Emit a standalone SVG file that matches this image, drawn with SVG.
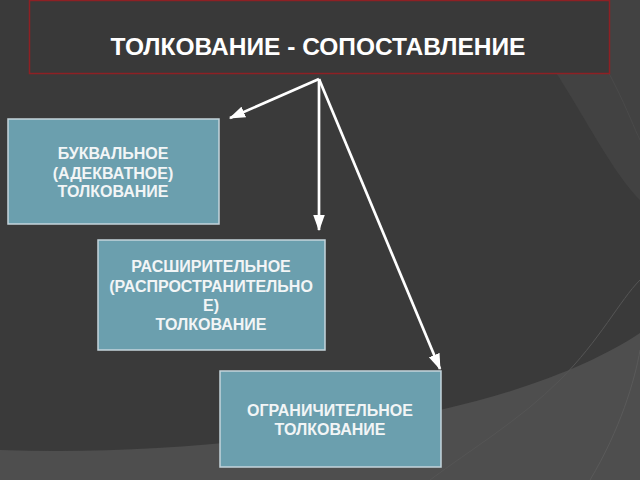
<svg xmlns="http://www.w3.org/2000/svg" width="640" height="480" viewBox="0 0 640 480">
<style>
.box{fill:#6b9fae;stroke:#c5d5dc;stroke-width:1.5}
.bt{font-family:"Liberation Sans",Arial,sans-serif;font-weight:bold;font-size:16px;fill:#f2f5f6;text-anchor:middle}
.conn{stroke:#ffffff;stroke-width:2.7;fill:none}
</style>
<defs>
<marker id="ah" viewBox="0 0 14 10" refX="13" refY="5" markerWidth="6" markerHeight="4.6" orient="auto" markerUnits="strokeWidth">
<path d="M0,0 L14,5 L0,10 z" fill="#ffffff"/>
</marker>
</defs>
<rect width="640" height="480" fill="#3a3a3a"/>
<path d="M500,0 C560,60 600,160 640,200 L640,0 z" fill="#424242"/>
<path d="M0,450 C150,455 300,440 440,410 C530,390 600,360 640,333 L640,480 L0,480 z" fill="#4e4e4e"/>
<path d="M430,480 C470,450 520,420 560,380 C600,340 620,300 640,280" fill="none" stroke="#555" stroke-width="1"/>
<path d="M590,480 C620,430 635,380 640,350" fill="none" stroke="#5a5a5a" stroke-width="1"/>
<path d="M560,0 C610,60 630,120 640,140" fill="none" stroke="#4a4a4a" stroke-width="1"/>
<g id="title">
<rect x="29.5" y="0.5" width="580" height="73" fill="#393939" stroke="#8e2024" stroke-width="1.5"/>
<text x="318" y="55" font-family="'Liberation Sans',Arial,sans-serif" font-weight="bold" font-size="24.5" fill="#ffffff" text-anchor="middle">ТОЛКОВАНИЕ - СОПОСТАВЛЕНИЕ</text>
</g>
<g id="n1">
<rect class="box" x="8" y="119" width="211" height="105"/>
<text class="bt" x="113" y="159">БУКВАЛЬНОЕ</text>
<text class="bt" x="113" y="179">(АДЕКВАТНОЕ)</text>
<text class="bt" x="113" y="197">ТОЛКОВАНИЕ</text>
</g>
<g id="n2">
<rect class="box" x="98" y="240" width="227" height="110"/>
<text class="bt" x="211" y="272">РАСШИРИТЕЛЬНОЕ</text>
<text class="bt" x="211" y="292">(РАСПРОСТРАНИТЕЛЬНО</text>
<text class="bt" x="211" y="311">Е)</text>
<text class="bt" x="211" y="330">ТОЛКОВАНИЕ</text>
</g>
<g id="n3">
<rect class="box" x="220" y="371" width="221" height="96"/>
<text class="bt" x="330" y="416">ОГРАНИЧИТЕЛЬНОЕ</text>
<text class="bt" x="330" y="435">ТОЛКОВАНИЕ</text>
</g>
<g id="connectors">
<line class="conn" x1="319" y1="79" x2="230" y2="118" marker-end="url(#ah)"/>
<line class="conn" x1="319" y1="79" x2="319" y2="230" marker-end="url(#ah)"/>
<line class="conn" x1="319" y1="79" x2="440" y2="369" marker-end="url(#ah)"/>
</g>
</svg>
